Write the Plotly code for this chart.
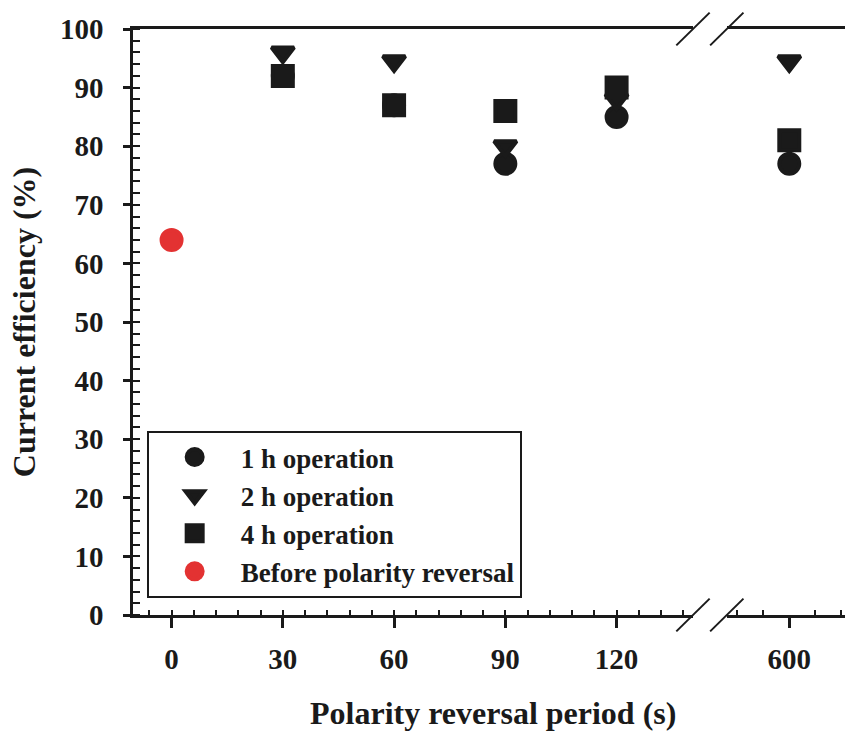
import plotly.graph_objects as go

# ---- data ----
periods_left = [30, 60, 90, 120]          # polarity reversal period (s), left segment
periods_right = [600]                     # right segment (after axis break)
eff_1h = [92, 87, 77, 85, 77]             # 1 h operation (30, 60, 90, 120, 600)
eff_2h = [96, 94.5, 80, 88, 94.5]         # 2 h operation
eff_4h = [92, 87, 86, 90, 81]             # 4 h operation
before_x = [0]
before_y = [64]                           # before polarity reversal

x_left_ticks = [0, 30, 60, 90, 120]
x_right_ticks = [600]
x_right_minor = [580, 590, 610, 620]
y_ticks = [0, 10, 20, 30, 40, 50, 60, 70, 80, 90, 100]

FONT = "Liberation Serif"
INK = "#1a1a1a"
RED = "#E33232"

series = [
    ("1 h operation", eff_1h, "circle", 20, INK),
    ("2 h operation", eff_2h, "triangle-down", 19.5, INK),
    ("4 h operation", eff_4h, "square", 20, INK),
]

fig = go.Figure()
n_left = len(periods_left)
for name, vals, sym, sz, col in series:
    mk = dict(symbol=sym, size=sz, color=col, line=dict(color=col, width=4))
    fig.add_trace(go.Scatter(x=periods_left, y=vals[:n_left], mode="markers", name=name,
                             marker=mk, xaxis="x", yaxis="y"))
    fig.add_trace(go.Scatter(x=periods_right, y=vals[n_left:], mode="markers", name=name,
                             marker=mk, xaxis="x2", yaxis="y", showlegend=False))
fig.add_trace(go.Scatter(x=before_x, y=before_y, mode="markers", name="Before polarity reversal",
                         marker=dict(symbol="circle", size=20, color=RED, line=dict(color=RED, width=4)),
                         xaxis="x", yaxis="y"))

left_end = 0.7865
right_start = 0.834

tickfont = dict(family=FONT, size=29, color=INK, weight="bold")
common_x = dict(showline=True, linewidth=2.5, linecolor=INK, mirror=True, showgrid=False,
                zeroline=False, ticks="outside", ticklen=10, tickwidth=2.5, tickcolor=INK,
                tickfont=tickfont, ticklabelstandoff=6)

fig.update_layout(
    width=845, height=733,
    margin=dict(l=133, r=0, t=29, b=118),
    paper_bgcolor="white", plot_bgcolor="white",
    font=dict(family=FONT, color=INK, weight="bold"),
    xaxis=dict(domain=[0, left_end], range=[-10.4, 140.6], tickmode="array",
               tickvals=x_left_ticks, ticktext=[str(v) for v in x_left_ticks],
               minor=dict(ticks="inside", ticklen=5, tickwidth=2, tickcolor=INK, dtick=6, tick0=0),
               anchor="y", **common_x),
    xaxis2=dict(domain=[right_start, 1], range=[576, 621.4], tickmode="array",
                tickvals=x_right_ticks, ticktext=[str(v) for v in x_right_ticks],
                minor=dict(ticks="inside", ticklen=5, tickwidth=2, tickcolor=INK,
                           tickmode="array", tickvals=x_right_minor),
                anchor="y", **common_x),
    yaxis=dict(domain=[0, 1], range=[0, 100], tickmode="array", tickvals=y_ticks,
               showline=True, linewidth=2.5, linecolor=INK, showgrid=False, zeroline=False,
               ticks="outside", ticklen=7, tickwidth=2.5, tickcolor=INK, tickfont=tickfont,
               ticklabelstandoff=14,
               minor=dict(ticks="inside", ticklen=7, tickwidth=2, tickcolor=INK, dtick=2),
               title=dict(text="Current efficiency (%)",
                          font=dict(family=FONT, size=32, color=INK, weight="bold"),
                          standoff=15)),
    legend=dict(x=0.0192, y=0.314, xanchor="left", yanchor="top", bgcolor="white",
                bordercolor=INK, borderwidth=2, tracegroupgap=0,
                font=dict(family=FONT, size=27, color=INK, weight="bold"), itemwidth=82),
    annotations=[dict(text="Polarity reversal period (s)", xref="paper", yref="paper",
                      x=0.506, y=-0.167, xanchor="center", yanchor="middle", showarrow=False,
                      font=dict(family=FONT, size=32, color=INK, weight="bold"))],
)

# axis-break slashes (bottom and top, at each segment end)
dx, dy = 0.0234, 0.028
shapes = []
for xc in (left_end, right_start):
    for yc in (0, 1):
        shapes.append(dict(type="line", xref="paper", yref="paper",
                           x0=xc - dx, y0=yc - dy, x1=xc + dx, y1=yc + dy,
                           line=dict(color=INK, width=2)))
fig.update_layout(shapes=shapes)

fig.write_html("out.html")
